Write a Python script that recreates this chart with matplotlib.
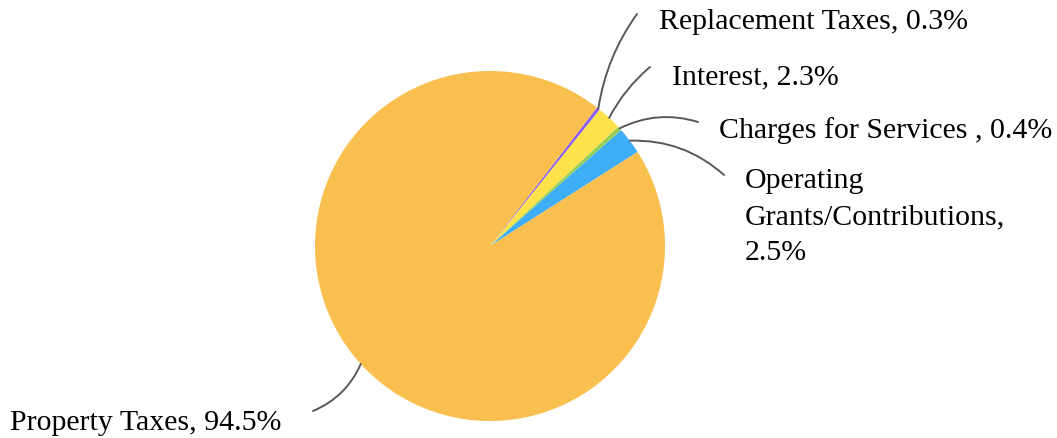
import numpy as np
import matplotlib
matplotlib.use("Agg")
import matplotlib.pyplot as plt

# data, counterclockwise from the blue slice
labels = ["Operating\nGrants/Contributions,\n2.5%", "Charges for Services , 0.4%",
          "Interest, 2.3%", "Replacement Taxes, 0.3%", "Property Taxes, 94.5%"]
values = [2.5, 0.4, 2.3, 0.3, 94.5]
colors = ["#3FAEF9", "#94CF5A", "#FEE24B", "#8A5CF5", "#F9BF4F"]

W, H = 1057, 439
CX, CY, R = 490, 247, 175

def to_data(px, py):
    return (px - CX) / R, (CY - py) / R

plt.rcParams['font.family'] = ['Liberation Serif', 'DejaVu Serif']

fig = plt.figure(figsize=(W / 100, H / 100), dpi=100)
ax = fig.add_axes([0, 0, 1, 1])

wedges, _ = ax.pie(values, colors=colors, startangle=32.5, counterclock=True,
                   radius=1, center=(0, 0), frame=True)
ax.set_xlim(-CX / R, (W - CX) / R)
ax.set_ylim(-(H - CY) / R, CY / R)
ax.set_aspect('equal')
ax.axis('off')

# line end (px), text anchor (px), ha, va, curvature
layout = [
    ((724, 176), (745, 168), 'left', 'top', 0.2),
    ((698, 123), (719, 131), 'left', 'center', 0.2),
    ((650, 68), (672, 77), 'left', 'center', 0.1),
    ((637, 15), (659, 22), 'left', 'center', 0.12),
    ((313, 412), (10, 423), 'left', 'center', 0.2),
]

for w, lab, (end, txt, ha, va, rad) in zip(wedges, labels, layout):
    mid = np.deg2rad((w.theta1 + w.theta2) / 2)
    pt = (np.cos(mid), np.sin(mid))
    ax.annotate('', xy=pt, xytext=to_data(*end),
                arrowprops=dict(arrowstyle='-', color='#595959', lw=1.4,
                                shrinkA=0, shrinkB=0,
                                connectionstyle='arc3,rad=%s' % rad))
    ax.text(*to_data(*txt), lab, ha=ha, va=va, fontsize=21.5,
            linespacing=1.5, color='black')

fig.savefig('out.png', dpi=100)
